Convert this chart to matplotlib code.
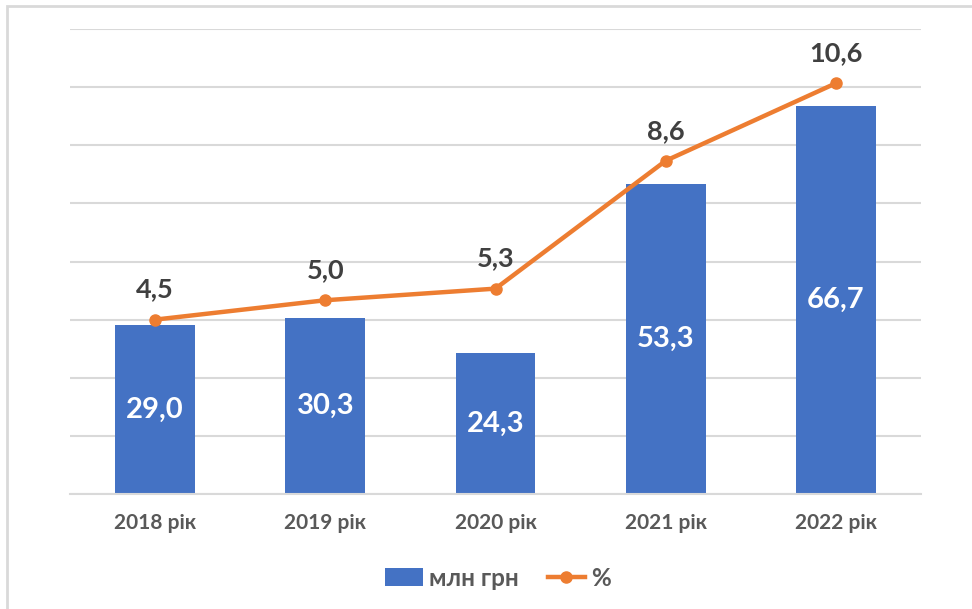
import matplotlib.pyplot as plt
from matplotlib.patches import Rectangle
from matplotlib.lines import Line2D
from matplotlib.patches import Patch

years = ['2018 рік', '2019 рік', '2020 рік', '2021 рік', '2022 рік']
amount_mln = [29.0, 30.3, 24.3, 53.3, 66.7]
share_pct = [4.5, 5.0, 5.3, 8.6, 10.6]

BLUE = '#4472C4'
ORANGE = '#ED7D31'
GRID = '#D9D9D9'

plt.rcParams['font.family'] = ['Lato', 'DejaVu Sans']

fig = plt.figure(figsize=(9.72, 6.09), dpi=100)
fig.patches.append(Rectangle((7 / 972, -0.1), 1.1, (609 - 6) / 609 + 0.1,
                             transform=fig.transFigure, fill=False,
                             edgecolor=GRID, linewidth=2))

ax = fig.add_axes([70 / 972, (609 - 494) / 609, 851 / 972, 465 / 609])
x = range(len(years))
bars = ax.bar(x, amount_mln, width=0.47, color=BLUE, zorder=2)
ax.set_ylim(0, 80)
ax.set_xlim(-0.5, len(years) - 0.5)
ax.set_yticks(range(0, 81, 10))
ax.yaxis.grid(True, color=GRID, linewidth=1.5, zorder=0)
ax.set_xticks(list(x))
ax.set_xticklabels(years, fontsize=15, fontweight='bold', color='#595959')
for s in ['top', 'right', 'left']:
    ax.spines[s].set_visible(False)
ax.spines['bottom'].set_color(GRID)
ax.spines['bottom'].set_linewidth(1.5)

for b, v in zip(bars, amount_mln):
    ax.text(b.get_x() + b.get_width() / 2, v / 2, f'{v:.1f}'.replace('.', ','),
            ha='center', va='center', color='white', fontsize=21,
            fontweight='bold', zorder=3)

ax2 = ax.twinx()
ax2.plot(list(x), share_pct, color=ORANGE, linewidth=3.2, marker='o',
         markersize=8, zorder=4)
ax2.set_ylim(0, 12)
ax2.axis('off')
for i, v in enumerate(share_pct):
    ax2.annotate(f'{v:.1f}'.replace('.', ','), (i, v), xytext=(0, 13),
                 textcoords='offset points', ha='center', va='bottom',
                 fontsize=19.5, fontweight='bold', color='#404040')

# twinx turns the left ticks back on, so hide them here
ax.tick_params(axis='y', left=False, labelleft=False, right=False)
ax.tick_params(axis='x', length=0, pad=14)

handles = [Patch(facecolor=BLUE),
           Line2D([0], [0], color=ORANGE, linewidth=3.2, marker='o', markersize=8)]
fig.legend(handles, ['млн грн', '%'], loc='center', bbox_to_anchor=(498 / 972, 1 - 578 / 609),
           ncol=2, frameon=False, prop={'size': 17.5, 'weight': 'bold'},
           labelcolor='#595959', handlelength=1.55, handleheight=0.7,
           columnspacing=1.2, handletextpad=0.25)

fig.savefig('out.png', dpi=100)
